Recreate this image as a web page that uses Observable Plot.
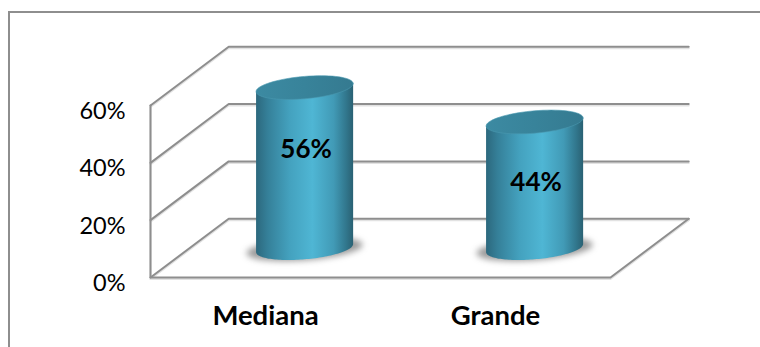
<!DOCTYPE html>
<html>
<head>
<meta charset="utf-8">
<script src="https://cdn.jsdelivr.net/npm/d3@7"></script>
<script src="https://cdn.jsdelivr.net/npm/@observablehq/plot@0.6"></script>
<style>
  html, body { margin: 0; padding: 0; background: #fff; overflow: hidden; }
  #frame { position: absolute; left: 8px; top: 11px; right: 0; bottom: 0;
           border-left: 2px solid #8e8e8e; border-top: 2px solid #8e8e8e; }
  #chart { position: absolute; left: 0; top: 0; }
  #chart svg { display: block; }
</style>
</head>
<body>
<div id="frame"></div>
<div id="chart"></div>
<script>
// Company size shares
const categories = ["Mediana", "Grande"];
const shares = [56, 44];
const shareTicks = [0, 20, 40, 60];

// Oblique projection of the 3D box: one unit of depth shifts right and up.
const depthX = 0.34;
const depthY = 20.5;
const project = ([cat, depth, pct]) => ({x: cat + depth * depthX, y: pct + depth * depthY});
const path = (...corners) => corners.map(project);

// Tilted ellipse around a projected centre, used for cylinder caps, bases and shadows.
const ellipse = (c, rx, ry, tilt, from = 0, to = 2 * Math.PI, n = 72) =>
  d3.range(n + 1).map((i) => {
    const t = from + ((to - from) * i) / n;
    return {
      x: c.x + rx * Math.cos(t),
      y: c.y + tilt * Math.cos(t) + ry * Math.sin(t)
    };
  });

const radiusX = 0.211;
const radiusY = 3.9;
const tilt = 1.4;

const lineStyle = {x: "x", y: "y", stroke: "#8e8e8e", strokeWidth: 2};
const glowStyle = {x: "x", y: "y", stroke: "#e2e2e2", strokeWidth: 2, dy: 1.5};
const boxLines = [
  ...shareTicks.map((v) => path([0, 0, v], [0, 1, v], [2, 1, v])),
  path([0, 0, 60], [0, 0, 0], [2, 0, 0], [2, 1, 0])
];

// Gradients referenced by the cylinder fills
const defs = () => {
  const d = d3.create("svg:defs");
  const addGradient = (id, stops) => {
    const g = d.append("linearGradient").attr("id", id).attr("x1", 0).attr("x2", 1).attr("y1", 0).attr("y2", 0);
    stops.forEach(([o, c]) => g.append("stop").attr("offset", o).attr("stop-color", c));
  };
  addGradient("cyl-body", [[0, "#2c687d"], [0.12, "#358099"], [0.35, "#44a2bf"], [0.58, "#4fb6d4"], [0.8, "#419ab6"], [0.93, "#31768c"], [1, "#2a6173"]]);
  addGradient("cyl-cap", [[0, "#3c8aa2"], [0.5, "#38839a"], [1, "#357a90"]]);
  return d.node();
};

const bars = shares.flatMap((share, i) => {
  const cat = i + 0.5;
  const base = project([cat, 0.5, 0]);
  const top = project([cat, 0.5, share]);
  // Outline of the cylinder wall: front half of the base, then up and across the top.
  const front = ellipse(base, radiusX, radiusY, tilt, Math.PI, 2 * Math.PI);
  const body = [...front, {x: top.x + radiusX, y: top.y + tilt}, {x: top.x - radiusX, y: top.y - tilt}];
  return [
    Plot.line(ellipse({x: base.x, y: base.y - 0.3}, 0.252, 3.9, 1.5), {
      x: "x", y: "y", fill: "#555", stroke: "none", fillOpacity: 0.6, imageFilter: "blur(3px)"
    }),
    Plot.line(body, {x: "x", y: "y", fill: "url(#cyl-body)", stroke: "none"}),
    Plot.line(ellipse(top, radiusX, radiusY, tilt), {x: "x", y: "y", fill: "url(#cyl-cap)", stroke: "#4a98b0", strokeWidth: 0.6}),
    Plot.text([share], {
      x: () => top.x,
      y: () => share / 2 + depthY / 2,
      text: (d) => `${d}%`,
      dx: 1.5,
      dy: i === 0 ? -18 : -2,
      fontSize: 26,
      fontWeight: 700,
      fill: "#000"
    })
  ];
});

const chart = Plot.plot({
  width: 760,
  height: 347,
  marginLeft: 150,
  marginRight: 150,
  marginTop: 105,
  marginBottom: 70,
  x: {domain: [0, 2]},
  y: {domain: [0, 60]},
  style: {fontFamily: "Lato, 'Open Sans', sans-serif", background: "transparent", color: "#000", overflow: "visible"},
  marks: [
    defs,
    ...boxLines.map((pts) => Plot.line(pts, glowStyle)),
    ...boxLines.map((pts) => Plot.line(pts, lineStyle)),
    Plot.axisY({
      ticks: shareTicks,
      tickFormat: (d) => `${d}%`,
      tickSize: 0,
      tickPadding: 25,
      dy: 6,
      fontSize: 23.5,
      label: null
    }),
    Plot.axisX({
      ticks: categories.map((_, i) => i + 0.5),
      tickFormat: (d) => categories[Math.floor(d)],
      tickSize: 0,
      tickPadding: 28,
      fontSize: 27.5,
      fontWeight: 700,
      label: null
    }),
    ...bars
  ]
});

document.getElementById("chart").appendChild(chart);
</script>
</body>
</html>
